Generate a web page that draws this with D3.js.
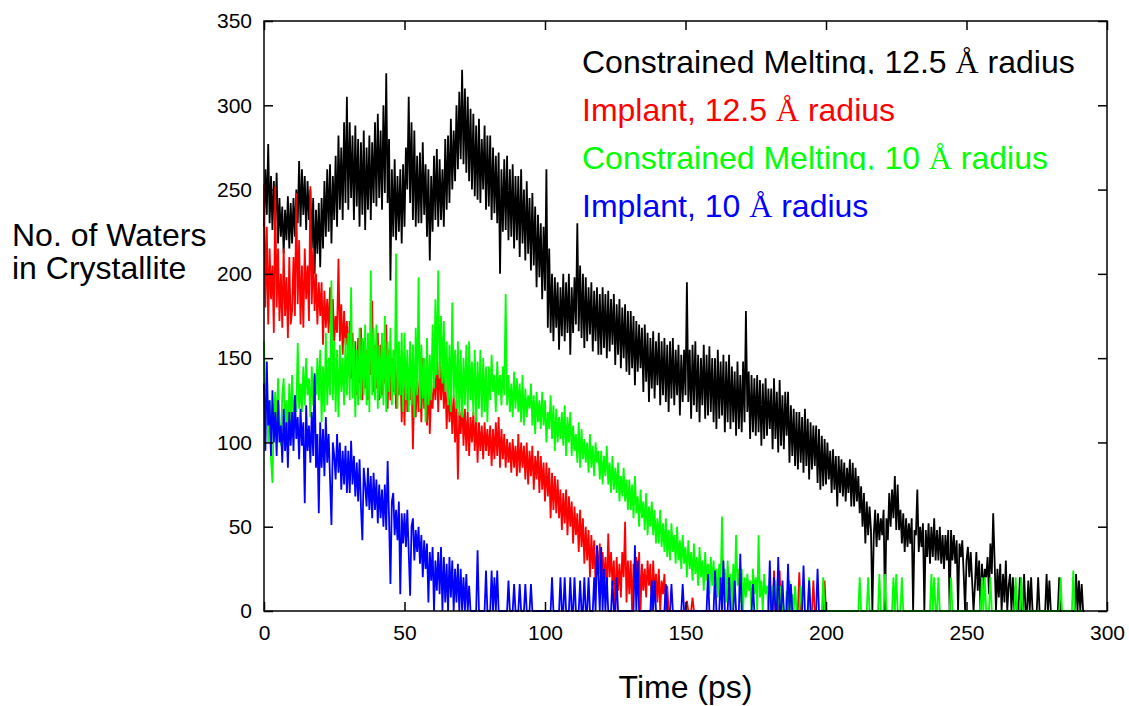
<!DOCTYPE html>
<html>
<head>
<meta charset="utf-8">
<script src="https://cdn.jsdelivr.net/npm/d3@7"></script>
<style>
body { margin: 0; background: #fff; }
text { font-family: "Liberation Sans", Arial, sans-serif; }
</style>
</head>
<body>
<div id="chart"></div>
<script>
// tick values
var xTicks = [0, 50, 100, 150, 200, 250, 300]
var yTicks = [0, 50, 100, 150, 200, 250, 300, 350]

// sampling interval of the series below (ps)
var dt = 0.5

// number of waters in the crystallite, every 0.5 ps (one row = 10 ps)
var cm125 = [
  228, 262, 235, 277, 230, 258, 226, 255, 232, 260, 218, 245, 222, 240, 212, 238, 220, 246, 215, 242,
  218, 245, 222, 250, 230, 267, 228, 262, 235, 258, 226, 255, 232, 250, 215, 245, 200, 238, 212, 242,
  204, 245, 215, 255, 222, 262, 225, 265, 218, 258, 232, 270, 228, 282, 238, 275, 232, 290, 242, 305,
  238, 290, 245, 282, 232, 288, 240, 280, 228, 278, 235, 285, 226, 275, 238, 282, 232, 278, 242, 290,
  240, 295, 245, 285, 238, 300, 248, 319, 242, 280, 196, 262, 222, 268, 220, 258, 225, 262, 218, 265,
  228, 275, 250, 305, 242, 290, 232, 285, 228, 270, 230, 272, 230, 278, 235, 265, 222, 262, 208, 258,
  225, 270, 232, 274, 228, 268, 232, 262, 228, 280, 238, 282, 242, 292, 250, 285, 255, 300, 262, 308,
  268, 321, 265, 310, 260, 305, 255, 298, 250, 295, 246, 288, 244, 292, 242, 280, 250, 288, 238, 282,
  240, 282, 232, 275, 236, 270, 230, 272, 200, 262, 225, 268, 226, 270, 220, 262, 222, 265, 215, 258,
  220, 258, 210, 262, 218, 250, 208, 255, 212, 245, 202, 248, 205, 240, 192, 235, 198, 230, 185, 228,
  190, 262, 168, 215, 165, 200, 160, 198, 168, 195, 155, 192, 163, 200, 160, 195, 165, 200, 152, 192,
  165, 198, 170, 230, 166, 205, 162, 200, 156, 198, 160, 192, 164, 195, 154, 190, 160, 192, 152, 188,
  152, 192, 156, 188, 150, 190, 154, 185, 158, 188, 146, 182, 152, 185, 144, 180, 150, 182, 142, 178,
  140, 178, 144, 175, 134, 172, 142, 170, 144, 168, 130, 170, 136, 165, 124, 162, 132, 166, 126, 160,
  134, 165, 122, 160, 128, 162, 124, 158, 118, 160, 126, 162, 122, 155, 128, 158, 116, 152, 124, 155,
  128, 195, 124, 155, 114, 158, 122, 160, 118, 152, 112, 150, 122, 158, 114, 152, 116, 157, 118, 150,
  112, 150, 108, 155, 114, 148, 116, 152, 106, 148, 112, 152, 108, 145, 112, 142, 104, 148, 108, 140,
  106, 148, 112, 178, 118, 142, 102, 140, 106, 138, 104, 140, 106, 137, 98, 135, 102, 138, 104, 132,
  108, 132, 96, 138, 102, 130, 94, 137, 98, 128, 96, 130, 104, 130, 88, 122, 92, 120, 86, 118,
  84, 118, 88, 115, 82, 120, 86, 114, 78, 112, 84, 110, 86, 110, 76, 108, 72, 104, 74, 102,
  75, 100, 78, 95, 70, 96, 72, 92, 62, 92, 70, 90, 68, 88, 65, 85, 70, 90, 62, 88,
  62, 85, 65, 80, 58, 74, 50, 70, 40, 65, 45, 62, 48, 0, 45, 60, 38, 58, 42, 55,
  45, 60, 0, 55, 42, 70, 50, 72, 55, 80, 48, 75, 48, 60, 40, 58, 35, 55, 38, 52,
  40, 55, 0, 48, 45, 72, 35, 50, 38, 52, 0, 48, 32, 52, 28, 50, 32, 55, 30, 48,
  30, 50, 28, 45, 25, 45, 30, 48, 0, 48, 30, 45, 28, 42, 0, 40, 32, 42, 22, 0,
  30, 38, 20, 35, 18, 0, 15, 35, 12, 30, 0, 28, 10, 25, 20, 32, 10, 40, 22, 58,
  30, 0, 25, 8, 28, 0, 22, 5, 30, 0, 15, 22, 0, 20, 0, 15, 0, 0, 20, 0,
  0, 22, 0, 0, 18, 0, 20, 0, 0, 0, 0, 20, 0, 0, 0, 0, 0, 22, 0, 18,
  0, 0, 0, 0, 0, 0, 20, 0, 0, 0, 0, 0, 0, 0, 0, 0, 0, 0, 22, 0,
  18, 0, 16, 0, 0
]
var imp125 = [
  253, 180, 228, 170, 215, 185, 205, 165, 252, 180, 215, 172, 200, 168, 215, 175, 198, 162, 210, 170,
  178, 210, 175, 248, 182, 220, 170, 205, 168, 215, 185, 205, 172, 252, 182, 215, 178, 200, 170, 195,
  175, 195, 158, 190, 168, 185, 165, 192, 155, 185, 160, 175, 165, 209, 160, 182, 152, 178, 158, 172,
  145, 172, 138, 165, 140, 160, 128, 162, 135, 168, 125, 160, 132, 155, 125, 150, 140, 184, 130, 158,
  132, 165, 125, 158, 128, 150, 135, 170, 120, 155, 125, 150, 130, 148, 120, 145, 128, 150, 112, 140,
  110, 148, 118, 142, 125, 140, 96, 135, 115, 140, 118, 138, 112, 150, 120, 138, 110, 135, 105, 130,
  120, 140, 125, 151, 118, 148, 125, 145, 120, 140, 108, 132, 112, 130, 105, 128, 100, 125, 78, 118,
  105, 125, 98, 120, 95, 118, 92, 115, 100, 118, 95, 115, 88, 112, 95, 110, 90, 112, 95, 108,
  92, 110, 86, 108, 90, 112, 92, 115, 85, 108, 90, 105, 85, 102, 88, 100, 82, 102, 85, 98,
  80, 105, 82, 100, 85, 98, 78, 100, 75, 95, 80, 98, 72, 92, 78, 95, 70, 92, 72, 88,
  65, 88, 68, 85, 55, 82, 60, 80, 58, 78, 55, 72, 48, 70, 52, 72, 45, 68, 50, 65,
  40, 62, 45, 58, 35, 60, 38, 55, 28, 50, 30, 48, 20, 45, 25, 42, 15, 38, 22, 40,
  10, 35, 18, 32, 8, 46, 20, 35, 15, 30, 0, 32, 12, 28, 8, 35, 20, 53, 5, 30,
  10, 30, 0, 28, 15, 32, 10, 35, 0, 28, 12, 25, 8, 30, 15, 28, 0, 30, 10, 22,
  5, 25, 0, 18, 10, 22, 0, 15, 0, 0, 0, 0, 0, 0, 0, 0, 0, 0, 0, 0,
  0, 6, 0, 0, 0, 8, 0, 0, 0, 0, 0, 0, 0, 0, 0, 0, 0, 0, 0, 0,
  0, 0, 0, 0, 0, 0, 0, 0, 0, 0, 0, 0, 0, 0, 0, 0, 0, 0, 0, 0,
  0, 0, 0, 0, 0, 0, 0, 0, 0, 0, 0, 0, 0, 0, 0, 0, 0, 0, 0, 0,
  0, 0, 0, 24, 0, 0, 0, 24, 0, 0, 0, 0, 0, 0, 0, 0, 0, 0, 0, 0,
  0, 23, 0, 0, 0, 0, 0, 0, 0, 0, 0, 18, 0, 0, 0, 0, 0, 0, 0, 18,
  0
]
var cm10 = [
  160, 120, 135, 100, 125, 90, 76, 115, 130, 105, 138, 112, 98, 128, 138, 108, 125, 100, 135, 110,
  140, 112, 128, 118, 159, 120, 135, 118, 145, 122, 150, 128, 138, 115, 145, 122, 140, 128, 150, 125,
  155, 112, 145, 118, 165, 122, 150, 128, 196, 125, 160, 118, 155, 115, 158, 130, 150, 122, 162, 128,
  165, 125, 192, 126, 160, 115, 155, 122, 168, 125, 162, 128, 170, 122, 165, 118, 202, 128, 168, 125,
  170, 120, 158, 126, 165, 122, 175, 118, 160, 130, 168, 122, 155, 128, 212, 120, 160, 128, 165, 118,
  165, 125, 155, 118, 160, 122, 158, 115, 168, 128, 198, 120, 158, 126, 150, 112, 162, 122, 152, 125,
  170, 132, 185, 140, 202, 138, 175, 135, 172, 130, 160, 122, 158, 118, 183, 126, 155, 120, 160, 116,
  155, 115, 150, 122, 158, 118, 160, 125, 148, 116, 155, 112, 148, 120, 155, 115, 150, 118, 145, 112,
  145, 125, 152, 130, 140, 118, 148, 128, 140, 122, 145, 128, 188, 122, 140, 118, 135, 115, 142, 120,
  138, 118, 135, 112, 140, 110, 132, 115, 128, 120, 135, 110, 128, 105, 130, 112, 125, 108, 130, 110,
  125, 100, 118, 108, 128, 102, 122, 95, 120, 100, 115, 102, 118, 98, 122, 92, 115, 100, 118, 92,
  110, 95, 105, 88, 112, 85, 108, 90, 102, 88, 100, 82, 105, 85, 98, 80, 100, 88, 95, 78,
  95, 75, 92, 80, 98, 75, 88, 70, 92, 72, 85, 70, 88, 65, 80, 68, 85, 65, 78, 60,
  78, 60, 75, 55, 80, 58, 68, 50, 72, 55, 65, 48, 70, 45, 62, 50, 65, 45, 60, 40,
  55, 40, 60, 38, 52, 35, 55, 32, 48, 30, 52, 35, 45, 28, 50, 30, 42, 25, 45, 28,
  38, 20, 42, 25, 35, 18, 40, 22, 32, 15, 38, 20, 30, 12, 35, 18, 28, 10, 32, 15,
  30, 12, 25, 8, 28, 15, 56, 10, 25, 5, 30, 12, 22, 0, 28, 10, 45, 15, 25, 5,
  25, 0, 20, 8, 22, 12, 18, 0, 25, 10, 20, 0, 45, 8, 18, 0, 22, 10, 15, 0,
  20, 0, 15, 5, 18, 0, 12, 0, 15, 0, 0, 0, 12, 0, 18, 0, 10, 0, 15, 0,
  0, 0, 15, 0, 0, 0, 0, 0, 20, 0, 0, 0, 0, 0, 0, 0, 0, 0, 20, 0,
  0, 0, 0, 0, 0, 0, 0, 0, 0, 0, 0, 0, 0, 0, 0, 0, 0, 0, 0, 0,
  0, 0, 0, 0, 20, 0, 0, 0, 0, 0, 20, 0, 0, 0, 0, 0, 0, 0, 22, 0,
  0, 0, 22, 0, 0, 0, 0, 0, 20, 0, 22, 0, 0, 0, 20, 0, 0, 0, 0, 0,
  0, 0, 0, 0, 0, 0, 0, 0, 0, 0, 0, 0, 0, 0, 0, 22, 0, 20, 0, 0,
  20, 0, 0, 0, 0, 0, 0, 0, 0, 20, 0, 0, 0, 0, 0, 0, 0, 0, 0, 0,
  0, 0, 0, 0, 0, 0, 0, 0, 0, 0, 0, 20, 0, 20, 0, 0, 0, 20, 0, 0,
  0, 0, 0, 0, 0, 0, 0, 0, 0, 0, 0, 0, 0, 0, 0, 20, 0, 0, 0, 20,
  0, 0, 0, 0, 0, 0, 0, 0, 0, 0, 0, 0, 0, 0, 0, 0, 0, 0, 0, 0,
  0, 0, 0, 0, 0, 0, 0, 20, 0, 0, 0, 0, 0, 0, 0, 0, 24, 0, 0, 0,
  0, 0, 0
]
var imp10 = [
  135, 95, 148, 110, 125, 92, 131, 100, 118, 92, 125, 100, 110, 88, 120, 95, 112, 85, 118, 98,
  118, 95, 128, 102, 115, 90, 120, 98, 112, 64, 122, 95, 110, 88, 118, 92, 141, 85, 105, 58,
  112, 85, 108, 80, 115, 88, 105, 78, 51, 100, 92, 78, 105, 82, 100, 72, 95, 75, 98, 70,
  95, 70, 101, 75, 92, 68, 88, 65, 90, 62, 42, 85, 75, 62, 85, 60, 80, 55, 82, 60,
  78, 52, 75, 55, 72, 50, 75, 48, 89, 55, 16, 65, 70, 45, 60, 42, 65, 10, 58, 40,
  58, 38, 60, 35, 9, 50, 55, 30, 48, 35, 50, 28, 45, 20, 42, 25, 40, 5, 35, 18,
  38, 0, 30, 12, 35, 10, 38, 0, 32, 5, 28, 0, 32, 8, 30, 0, 25, 5, 28, 0,
  25, 0, 20, 0, 22, 0, 15, 0, 0, 0, 0, 0, 36, 0, 0, 0, 0, 0, 24, 0,
  0, 0, 24, 0, 20, 0, 24, 0, 0, 0, 0, 0, 0, 0, 18, 0, 0, 0, 16, 0,
  0, 0, 16, 0, 0, 0, 16, 0, 0, 0, 16, 0, 0, 0, 0, 0, 0, 0, 0, 0,
  0, 0, 0, 0, 0, 20, 0, 0, 0, 0, 0, 20, 0, 0, 20, 0, 0, 0, 20, 0,
  0, 20, 0, 0, 0, 18, 0, 0, 20, 0, 0, 20, 0, 0, 0, 20, 0, 39, 20, 0,
  38, 0, 25, 0, 20, 0, 0, 0, 18, 0, 0, 20, 0, 0, 0, 0, 0, 0, 0, 0,
  0, 0, 0, 0, 39, 0, 30, 0, 0, 0, 0, 0, 0, 0, 0, 0, 18, 0, 18, 0,
  0, 0, 0, 0, 0, 0, 16, 0, 0, 0, 16, 0, 0, 0, 0, 0, 0, 0, 16, 0,
  0, 0, 0, 0, 0, 0, 0, 0, 0, 0, 0, 0, 0, 0, 0, 0, 22, 0, 0, 0,
  0, 24, 0, 0, 0, 20, 0, 30, 0, 0, 0, 20, 0, 0, 0, 18, 0, 0, 0, 34,
  0, 0, 0, 0, 0, 0, 0, 0, 16, 0, 0, 0, 0, 0, 0, 0, 0, 0, 0, 0,
  30, 0, 0, 20, 0, 0, 32, 0, 0, 18, 0, 0, 0, 28, 0, 16, 0, 0, 0, 0,
  0, 0, 0, 0, 27, 0, 0, 0, 18, 0, 0, 0, 0, 0, 25, 0, 0, 0, 0, 0,
  0
]

var seriesData = [cm125, imp125, cm10, imp10]
var seriesColors = ["#000000", "#ff0000", "#00ff00", "#0000ff"]
var legendLabels = ["Constrained Melting, 12.5", "Implant, 12.5", "Constrained Melting, 10", "Implant, 10"]

var width = 1129, height = 706
var margin = { top: 21, right: 22, bottom: 95, left: 264 }
var plotW = width - margin.left - margin.right
var plotH = height - margin.top - margin.bottom

var svg = d3.select("#chart").append("svg")
    .attr("width", width)
    .attr("height", height)

var x = d3.scaleLinear().domain([0, 300]).range([0, plotW])
var y = d3.scaleLinear().domain([0, 350]).range([plotH, 0])

var g = svg.append("g").attr("transform", "translate(" + margin.left + "," + margin.top + ")")

var line = d3.line()
    .x(function(d, i){ return x(i * dt) })
    .y(function(d){ return y(d) })

// draw in gnuplot order: black first, blue last
seriesData.forEach(function(s, k){
    g.append("path")
        .datum(s)
        .attr("fill", "none")
        .attr("stroke", seriesColors[k])
        .attr("stroke-width", 1.8)
        .attr("stroke-linejoin", "bevel")
        .attr("d", line)
})

// axes with inward ticks, mirrored on top and right
var tickLen = 9
g.append("g")
    .attr("transform", "translate(0," + plotH + ")")
    .call(d3.axisBottom(x).tickValues(xTicks).tickSize(-tickLen).tickPadding(14).tickFormat(d3.format("d")))
g.append("g")
    .call(d3.axisTop(x).tickValues(xTicks).tickSize(-tickLen).tickFormat(""))
g.append("g")
    .call(d3.axisLeft(y).tickValues(yTicks).tickSize(-tickLen).tickPadding(12).tickFormat(d3.format("d")))
g.append("g")
    .attr("transform", "translate(" + plotW + ",0)")
    .call(d3.axisRight(y).tickValues(yTicks).tickSize(-tickLen).tickFormat(""))

g.selectAll(".domain").remove()
g.selectAll(".tick line").attr("stroke", "#000").attr("stroke-width", 1.5)
g.selectAll(".tick text")
    .attr("fill", "#000")
    .style("font-size", "21px")
    .style("font-family", "'Liberation Sans', Arial, sans-serif")

g.append("rect")
    .attr("width", plotW)
    .attr("height", plotH)
    .attr("fill", "none")
    .attr("stroke", "#000")
    .attr("stroke-width", 1.5)

// axis titles
svg.append("text")
    .attr("x", margin.left + plotW / 2)
    .attr("y", 698)
    .attr("text-anchor", "middle")
    .style("font-size", "32px")
    .text("Time (ps)")

var ylab = svg.append("text").style("font-size", "32px")
ylab.append("tspan").attr("x", 12).attr("y", 246).text("No. of Waters")
ylab.append("tspan").attr("x", 12).attr("y", 279).text("in Crystallite")

// legend, descenders of the "Constrained Melting" rows are cut off like in the original
var defs = svg.append("defs")
var legY = [73, 121, 169, 217]
legendLabels.forEach(function(lab, k){
    var clipped = lab.indexOf("Melting") >= 0
    if (clipped) {
        defs.append("clipPath").attr("id", "legclip" + k)
            .append("rect")
            .attr("x", 560).attr("y", legY[k] - 40)
            .attr("width", 560).attr("height", 41)
    }
    var t = svg.append("text")
        .attr("x", 582)
        .attr("y", legY[k])
        .attr("fill", seriesColors[k])
        .style("font-size", "32px")
    if (clipped) t.attr("clip-path", "url(#legclip" + k + ")")
    t.append("tspan").text(lab + " ")
    t.append("tspan").style("font-family", "'Liberation Serif', 'Times New Roman', serif").text("Å")
    t.append("tspan").text(" radius")
})
</script>
</body>
</html>
